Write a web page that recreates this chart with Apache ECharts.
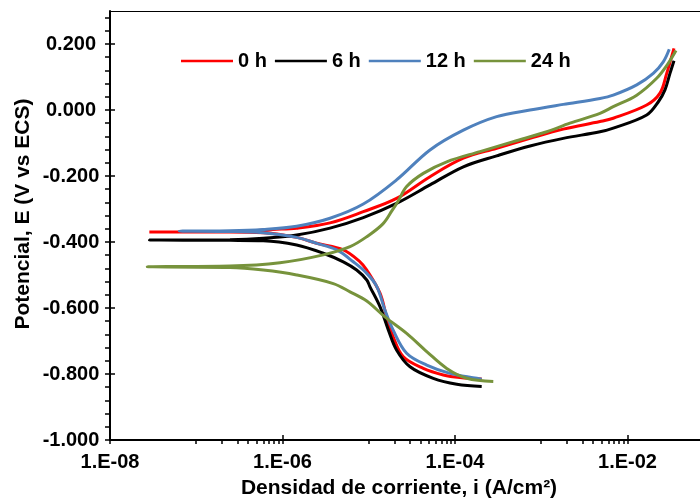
<!DOCTYPE html>
<html><head><meta charset="utf-8">
<script src="https://cdn.jsdelivr.net/npm/echarts@6/dist/echarts.min.js"></script>
<style>html,body{margin:0;padding:0;background:#fff}#c{width:700px;height:502px}</style>
</head><body><div id="c"></div>
<script>
// ---- Data (current density in A/cm2, potential in V vs ECS), in scan order ----
const seriesNames = ['0 h', '6 h', '12 h', '24 h'];

const i0h = [2.04e-4, 1.14e-4, 7.31e-5, 4.29e-5, 2.52e-5, 1.92e-5, 1.61e-5, 1.35e-5, 9.49e-6, 7.92e-6, 5.07e-6, 2.49e-6, 1.46e-6, 5.98e-7, 2.46e-7, 2.86e-8,
             3.21e-7, 7.76e-7, 1.46e-6, 3.56e-6, 8.65e-6, 2.10e-5, 5.13e-5, 1.25e-4, 3.04e-4, 7.41e-4, 1.80e-3, 4.80e-3, 6.84e-3, 1.67e-2, 2.38e-2, 2.85e-2, 3.17e-2, 3.46e-2];
const e0h = [-0.815, -0.811, -0.803, -0.783, -0.748, -0.687, -0.626, -0.555, -0.485, -0.460, -0.424, -0.404, -0.386, -0.372, -0.370, -0.370,
             -0.368, -0.362, -0.358, -0.342, -0.308, -0.268, -0.202, -0.146, -0.116, -0.086, -0.058, -0.035, -0.025, 0.015, 0.051, 0.111, 0.152, 0.187];

const i6h = [2.04e-4, 1.05e-4, 5.60e-5, 3.01e-5, 2.10e-5, 1.69e-5, 1.35e-5, 1.03e-5, 9.49e-6, 7.24e-6, 5.07e-6, 2.97e-6, 1.46e-6, 5.98e-7, 2.46e-7, 2.86e-8,
             2.46e-7, 5.98e-7, 1.46e-6, 3.56e-6, 8.65e-6, 2.10e-5, 5.13e-5, 1.25e-4, 3.04e-4, 7.41e-4, 1.80e-3, 4.80e-3, 6.84e-3, 1.67e-2, 2.28e-2, 2.72e-2, 3.11e-2, 3.46e-2];
const e6h = [-0.838, -0.831, -0.813, -0.778, -0.727, -0.667, -0.596, -0.535, -0.515, -0.485, -0.460, -0.434, -0.409, -0.396, -0.395, -0.394,
             -0.393, -0.389, -0.379, -0.358, -0.326, -0.283, -0.227, -0.172, -0.139, -0.109, -0.086, -0.066, -0.055, -0.015, 0.025, 0.061, 0.111, 0.149];

const i12h = [2.04e-4, 1.79e-4, 8.75e-5, 4.70e-5, 2.75e-5, 1.92e-5, 1.54e-5, 1.24e-5, 9.49e-6, 6.62e-6, 4.26e-6, 2.49e-6, 1.46e-6, 5.98e-7, 2.46e-7, 6.35e-8,
              2.46e-7, 5.98e-7, 1.46e-6, 3.56e-6, 8.65e-6, 2.10e-5, 5.13e-5, 1.25e-4, 3.04e-4, 7.41e-4, 1.80e-3, 4.80e-3, 6.84e-3, 1.28e-2, 1.99e-2, 2.60e-2, 3.05e-2];
const e12h = [-0.816, -0.813, -0.798, -0.773, -0.737, -0.667, -0.606, -0.535, -0.495, -0.460, -0.424, -0.404, -0.386, -0.372, -0.368, -0.367,
              -0.366, -0.362, -0.352, -0.328, -0.285, -0.212, -0.121, -0.061, -0.020, 0.000, 0.017, 0.035, 0.045, 0.076, 0.111, 0.146, 0.184];

const i24h = [2.78e-4, 1.37e-4, 8.02e-5, 4.70e-5, 2.75e-5, 1.54e-5, 9.49e-6, 6.07e-6, 3.88e-6, 1.46e-6, 5.98e-7, 2.46e-7, 2.70e-8,
              2.46e-7, 9.35e-7, 2.97e-6, 6.07e-6, 9.49e-6, 1.46e-5, 1.86e-5, 2.18e-5, 2.75e-5, 4.29e-5, 8.02e-5, 1.95e-4, 4.74e-4, 1.16e-3, 2.15e-3, 4.80e-3, 6.84e-3, 1.28e-2, 2.18e-2, 2.98e-2, 3.65e-2];
const e24h = [-0.823, -0.813, -0.783, -0.732, -0.677, -0.627, -0.579, -0.551, -0.526, -0.500, -0.485, -0.477, -0.475,
              -0.473, -0.463, -0.439, -0.414, -0.384, -0.345, -0.305, -0.277, -0.232, -0.192, -0.157, -0.126, -0.096, -0.066, -0.040, -0.010, 0.010, 0.045, 0.096, 0.142, 0.180];

const xMajorTicks = [1e-8, 1e-6, 1e-4, 1e-2];
const yMajorTicks = [-1.0, -0.8, -0.6, -0.4, -0.2, 0.0, 0.2];
const colors = ['#FF0000', '#000000', '#4F81BD', '#77933C'];

// ---- minor tick positions ----
const xMinorTicks = [];
for (const d of [1e-7, 1e-5, 1e-3]) for (let n = 1; n <= 9; n++) xMinorTicks.push(+(n * d).toPrecision(3));
const yMinorTicks = [];
for (let k = 0; k <= 32; k++) yMinorTicks.push(+(-1 + 0.04 * k).toFixed(2));

const X_MIN = 1e-8, X_MAX = 0.0693; // visible range of the (cropped) log axis
const FONT = '"Liberation Sans", Arial, sans-serif';
const pairs = (xs, ys) => xs.map((x, k) => [x, ys[k]]);
const seriesData = [pairs(i0h, e0h), pairs(i6h, e6h), pairs(i12h, e12h), pairs(i24h, e24h)];

const xFmt = v => { const p = Math.round(Math.log10(v)); return '1.E' + (p < 0 ? '-' : '+') + String(Math.abs(p)).padStart(2, '0'); };

const chart = echarts.init(document.getElementById('c'), null, { renderer: 'canvas' });
chart.setOption({
  animation: false,
  backgroundColor: '#fff',
  grid: { left: 110, top: 11, right: 0, bottom: 62, show: false },
  legend: {
    data: seriesNames, left: 176, top: 46, itemWidth: 52, itemHeight: 2.5, itemGap: 8, icon: 'rect',
    textStyle: { fontFamily: FONT, fontWeight: 'bold', fontSize: 20, color: '#000' }
  },
  xAxis: [
    {
      type: 'log', logBase: 10, min: X_MIN, max: X_MAX, position: 'bottom',
      axisLine: { show: true, onZero: false, lineStyle: { color: '#000', width: 2 } },
      axisTick: { show: true, inside: false, length: 4, customValues: xMajorTicks.concat(xMinorTicks), lineStyle: { color: '#000', width: 1.5 } },
      axisLabel: { customValues: xMajorTicks, formatter: xFmt, margin: 12, fontFamily: FONT, fontWeight: 'bold', fontSize: 20, color: '#000' },
      splitLine: { show: false }, minorTick: { show: false }
    },
    {
      type: 'log', logBase: 10, min: X_MIN, max: X_MAX, position: 'bottom',
      axisLine: { show: false, onZero: false },
      axisTick: { show: true, inside: true, length: 5, customValues: xMajorTicks, lineStyle: { color: '#000', width: 1.5 } },
      axisLabel: { show: false }, splitLine: { show: false }
    },
    {
      type: 'log', logBase: 10, min: X_MIN, max: X_MAX, position: 'top',
      axisLine: { show: true, onZero: false, lineStyle: { color: '#000', width: 1 } },
      axisTick: { show: false }, axisLabel: { show: false }, splitLine: { show: false }
    }
  ],
  yAxis: [
    {
      type: 'value', min: -1, max: 0.3, position: 'left',
      axisLine: { show: true, onZero: false, lineStyle: { color: '#000', width: 2 } },
      axisTick: { show: true, inside: false, length: 5, customValues: yMinorTicks, lineStyle: { color: '#000', width: 1.5 } },
      axisLabel: { customValues: yMajorTicks, formatter: v => v.toFixed(3), align: 'center', margin: 39, fontFamily: FONT, fontWeight: 'bold', fontSize: 20, color: '#000' },
      splitLine: { show: false }
    },
    {
      type: 'value', min: -1, max: 0.3, position: 'left',
      axisLine: { show: false, onZero: false },
      axisTick: { show: true, inside: true, length: 5, customValues: yMajorTicks, lineStyle: { color: '#000', width: 1.5 } },
      axisLabel: { show: false }, splitLine: { show: false }
    }
  ],
  graphic: [
    { type: 'text', x: 399, y: 488, silent: true,
      style: { text: 'Densidad de corriente, i (A/cm²)', font: 'bold 21px ' + FONT, fill: '#000', align: 'center', verticalAlign: 'middle' } },
    { type: 'text', x: 23, y: 214, rotation: Math.PI / 2, silent: true,
      style: { text: 'Potencial, E (V vs ECS)', font: 'bold 21px ' + FONT, fill: '#000', align: 'center', verticalAlign: 'middle' } }
  ],
  series: seriesData.map((d, k) => ({
    name: seriesNames[k], type: 'line', xAxisIndex: 0, yAxisIndex: 0, data: d,
    symbol: 'none', smooth: 0.35, color: colors[k],
    lineStyle: { color: colors[k], width: 3 }
  }))
});
</script>
</body></html>
